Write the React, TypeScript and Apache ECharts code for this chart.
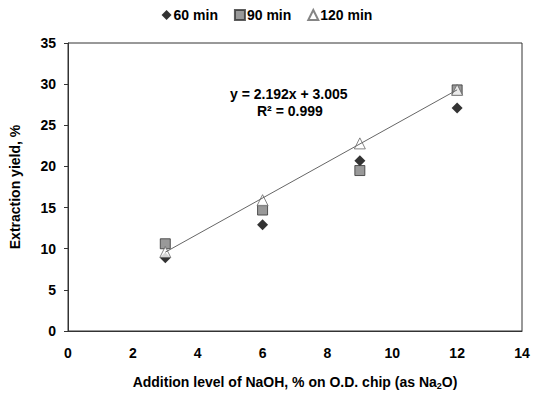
import React, { useEffect, useRef } from "react";
import * as echarts from "echarts";

const xValues = [3, 6, 9, 12];
const y60 = [8.9, 12.9, 20.7, 27.1];
const y90 = [10.6, 14.7, 19.5, 29.3];
const y120 = [9.6, 15.9, 22.8, 29.3];
const slope = 2.192;
const intercept = 3.005;
const fitX = [3, 12];
const seriesNames = ["60 min", "90 min", "120 min"];

const font = "'Liberation Sans', Arial, sans-serif";

export default function App() {
  const ref = useRef<HTMLDivElement>(null);
  useEffect(() => {
    if (!ref.current) return;
    const chart = echarts.init(ref.current, null, { renderer: "svg" });
    const pts = (ys: number[]) => xValues.map((x, i) => [x, ys[i]]);
    chart.setOption({
      animation: false,
      backgroundColor: "#fff",
      textStyle: { fontFamily: font },
      legend: {
        top: 3,
        left: "center",
        itemGap: 16,
        itemWidth: 10,
        itemHeight: 10,
        textStyle: { fontFamily: font, fontWeight: "bold", fontSize: 14, color: "#000", padding: [0, 0, 0, -3] },
        data: seriesNames,
      },
      grid: { left: 66, top: 43, right: 12, bottom: 66, show: true, borderColor: "#333", borderWidth: 1 },
      xAxis: {
        type: "value",
        min: 0,
        max: 14,
        interval: 2,
        splitLine: { show: false },
        axisLine: { lineStyle: { color: "#333" } },
        axisTick: { show: false },
        axisLabel: { fontFamily: font, fontWeight: "bold", fontSize: 14, color: "#000", margin: 15 },
        name: "{a|Addition level of NaOH, % on O.D. chip (as Na}{s|2}{a|O)}",
        nameLocation: "middle",
        nameGap: 43,
        nameTextStyle: {
          rich: {
            a: { fontFamily: font, fontWeight: "bold", fontSize: 14, color: "#000" },
            s: { fontFamily: font, fontWeight: "bold", fontSize: 9, color: "#000", verticalAlign: "bottom", padding: [7, 0, 0, 0] },
          },
        },
      },
      yAxis: {
        type: "value",
        min: 0,
        max: 35,
        interval: 5,
        splitLine: { show: false },
        axisLine: { show: true, lineStyle: { color: "#333" } },
        axisTick: { show: true, inside: false, length: 4, lineStyle: { color: "#333" } },
        axisLabel: { fontFamily: font, fontWeight: "bold", fontSize: 14, color: "#000", margin: 12 },
        name: "Extraction yield, %",
        nameLocation: "middle",
        nameGap: 46,
        nameTextStyle: { fontFamily: font, fontWeight: "bold", fontSize: 14, color: "#000" },
      },
      series: [
        {
          name: "60 min",
          type: "scatter",
          symbol: "diamond",
          symbolSize: 11,
          itemStyle: { color: "#000" },
          data: pts(y60),
          z: 3,
        },
        {
          name: "90 min",
          type: "scatter",
          symbol: "rect",
          symbolSize: 10,
          itemStyle: { color: "#808080", borderColor: "#333", borderWidth: 1 },
          data: pts(y90),
          z: 4,
        },
        {
          name: "120 min",
          type: "scatter",
          symbol: "triangle",
          symbolSize: 11,
          itemStyle: { color: "#fff", borderColor: "#666", borderWidth: 1 },
          data: pts(y120),
          z: 5,
        },
        {
          name: "fit",
          type: "line",
          symbol: "none",
          lineStyle: { color: "#666", width: 1 },
          data: fitX.map((x) => [x, slope * x + intercept]),
          z: 6,
          silent: true,
        },
      ],
      graphic: [
        {
          type: "text",
          left: 230,
          top: 87,
          style: {
            text: "y = 2.192x + 3.005",
            fontFamily: font,
            fontWeight: "bold",
            fontSize: 14,
            fill: "#000",
          },
        },
        {
          type: "text",
          left: 257,
          top: 104,
          style: {
            text: "R² = 0.999",
            fontFamily: font,
            fontWeight: "bold",
            fontSize: 14,
            fill: "#000",
          },
        },
      ],
    });
    return () => chart.dispose();
  }, []);
  return (
    <div
      ref={ref}
      style={{ width: 534, height: 397, position: "absolute", left: 0, top: 0 }}
    />
  );
}
